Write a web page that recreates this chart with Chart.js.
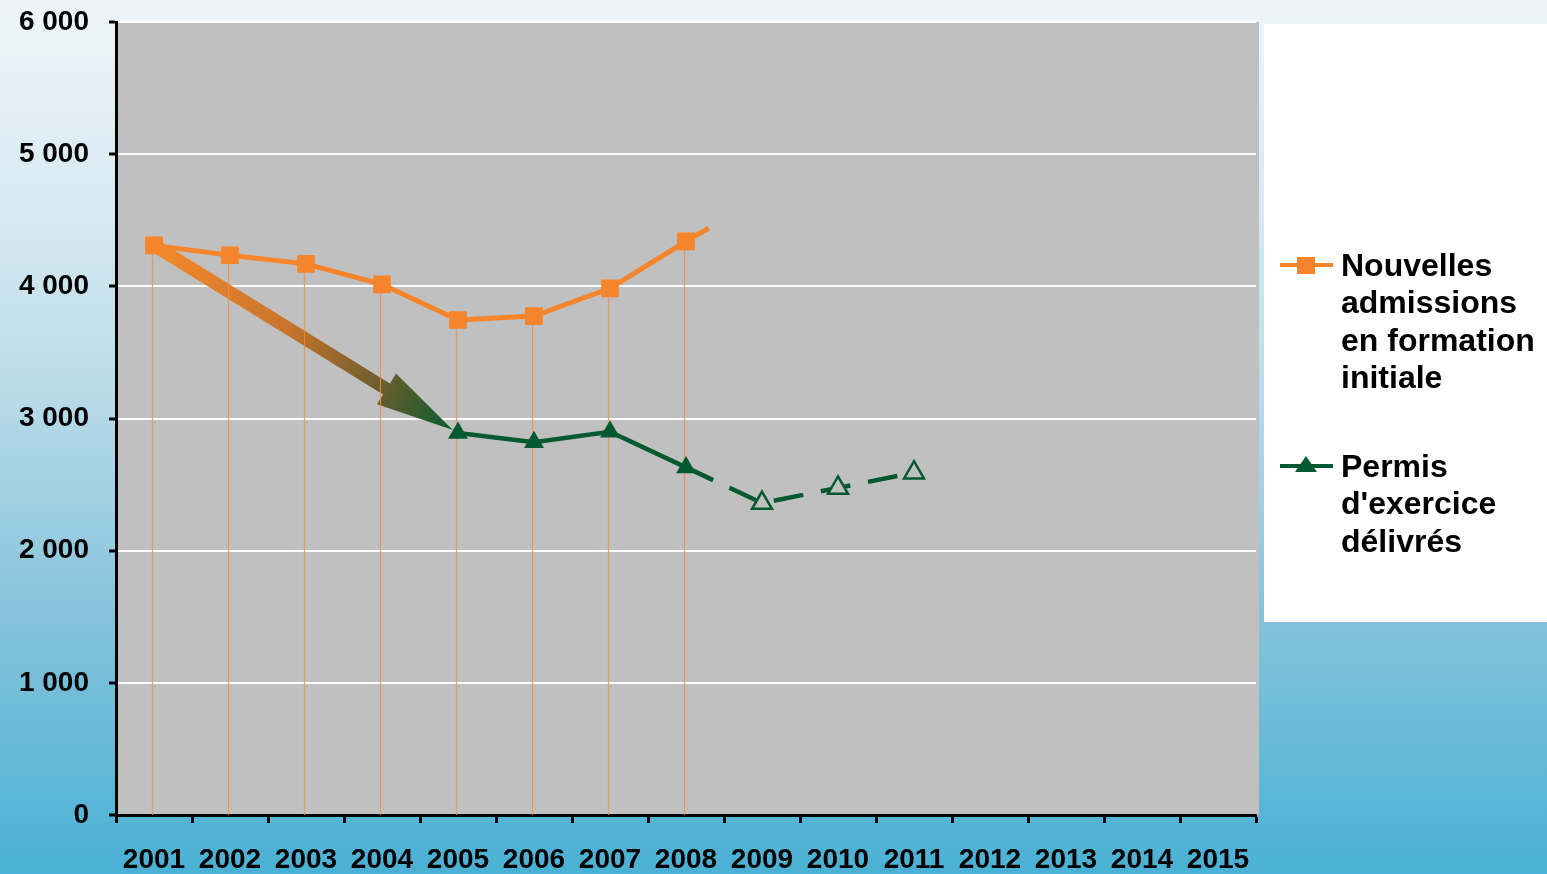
<!DOCTYPE html>
<html>
<head>
<meta charset="utf-8">
<script src="https://cdn.jsdelivr.net/npm/chart.js@4"></script>
<style>
  html, body { margin: 0; padding: 0; }
  body {
    width: 1547px; height: 874px; overflow: hidden;
    background: linear-gradient(to bottom, #eef5f9 0%, #d6e9f1 25%, #b9dbe8 45%, #86c3db 70%, #4ab1d4 100%);
  }
  canvas { display: block; }
</style>
</head>
<body>
<canvas id="chart" width="1547" height="874"></canvas>
<script>
// données
const years = ['2001', '2002', '2003', '2004', '2005', '2006', '2007', '2008', '2009', '2010', '2011', '2012', '2013', '2014', '2015'];
const admissions = [4310, 4235, 4170, 4015, 3745, 3775, 3985, 4340, null, null, null, null, null, null, null];
const permis = [null, null, null, null, 2890, 2820, 2900, 2630, 2360, 2475, 2590, null, null, null, null];
const permisOpen = [false, false, false, false, false, false, false, false, true, true, true, false, false, false, false];
const yTicks = [0, 1000, 2000, 3000, 4000, 5000, 6000];
const admissionsTail = 4440;   // petit bout de courbe après 2008
const legendLines = [
    ['Nouvelles', 'admissions', 'en formation', 'initiale'],
    ['Permis', "d'exercice", 'délivrés']
];

const ORANGE = '#f5842a';
const GREEN = '#045a2e';
const FONT = "'Liberation Sans', Arial, sans-serif";

function fmt(v) {
    return String(v).replace(/\B(?=(\d{3})+(?!\d))/g, ' ');
}

// fond gris de la zone de tracé
const plotBg = {
    id: 'plotBg',
    beforeDraw(chart) {
        const a = chart.chartArea;
        const ctx = chart.ctx;
        ctx.save();
        ctx.fillStyle = '#c0c0c0';
        ctx.fillRect(a.left, a.top, a.right - a.left + 3, a.bottom - a.top);
        ctx.restore();
    }
};

// flèche + traits verticaux
const extras = {
    id: 'extras',
    beforeDatasetsDraw(chart) {
        const ctx = chart.ctx;
        const a = chart.chartArea;
        const orange = chart.getDatasetMeta(0).data;
        const green = chart.getDatasetMeta(1).data;

        // flèche dégradée de 2001 (admissions) vers 2005 (permis)
        const p0 = orange[0], p1 = green[4];
        const dx = p1.x - p0.x, dy = p1.y - p0.y;
        const len = Math.sqrt(dx * dx + dy * dy);
        const ang = Math.atan2(dy, dx);
        const L = len - 6, head = 78, shaft = 6.5, hw = 18;
        ctx.save();
        ctx.translate(p0.x, p0.y);
        ctx.rotate(ang);
        const g = ctx.createLinearGradient(0, 0, L, 0);
        g.addColorStop(0, '#f5892a');
        g.addColorStop(0.45, '#c8742c');
        g.addColorStop(0.75, '#6e5e2e');
        g.addColorStop(1, '#0b5a2d');
        ctx.fillStyle = g;
        ctx.beginPath();
        ctx.moveTo(0, -shaft);
        ctx.lineTo(L - head, -shaft);
        ctx.lineTo(L - head, -hw);
        ctx.lineTo(L, 0);
        ctx.lineTo(L - head, hw);
        ctx.lineTo(L - head, shaft);
        ctx.lineTo(0, shaft);
        ctx.closePath();
        ctx.fill();
        ctx.restore();

        // traits verticaux orange sous chaque point
        ctx.save();
        ctx.strokeStyle = 'rgba(245, 140, 60, 0.8)';
        ctx.lineWidth = 1.2;
        orange.forEach((pt, i) => {
            if (admissions[i] == null) return;
            ctx.beginPath();
            ctx.moveTo(pt.x - 1.5, pt.y);
            ctx.lineTo(pt.x - 1.5, a.bottom);
            ctx.stroke();
        });

        // bout de courbe après 2008
        const last = orange[7];
        const nx = chart.scales.x.getPixelForValue(8);
        const tx = last.x + (nx - last.x) * 0.3;
        const ty = chart.scales.y.getPixelForValue(admissionsTail);
        ctx.strokeStyle = ORANGE;
        ctx.lineWidth = 5;
        ctx.beginPath();
        ctx.moveTo(last.x, last.y);
        ctx.lineTo(tx, ty);
        ctx.stroke();
        ctx.restore();
    }
};

// légende dessinée à la main
const sideLegend = {
    id: 'sideLegend',
    afterDraw(chart) {
        const ctx = chart.ctx;
        ctx.save();
        ctx.fillStyle = '#ffffff';
        ctx.fillRect(1264, 24, 283, 598);

        const items = [
            { color: ORANGE, y: 266, style: 'rect' },
            { color: GREEN, y: 467, style: 'triangle' }
        ];
        items.forEach((it, k) => {
            ctx.strokeStyle = it.color;
            ctx.lineWidth = 4;
            ctx.beginPath();
            ctx.moveTo(1280, it.y - 1);
            ctx.lineTo(1333, it.y - 1);
            ctx.stroke();
            ctx.fillStyle = it.color;
            if (it.style === 'rect') {
                ctx.fillRect(1297, it.y - 9, 18, 17);
            } else {
                ctx.beginPath();
                ctx.moveTo(1306, it.y - 11);
                ctx.lineTo(1317, it.y + 5);
                ctx.lineTo(1295, it.y + 5);
                ctx.closePath();
                ctx.fill();
            }
            ctx.fillStyle = '#000';
            ctx.font = 'bold 32px ' + FONT;
            ctx.textBaseline = 'middle';
            ctx.textAlign = 'left';
            legendLines[k].forEach((t, i) => {
                ctx.fillText(t, 1341, it.y + 1 + i * 37.5);
            });
        });
        ctx.restore();
    }
};

new Chart(document.getElementById('chart'), {
    type: 'line',
    data: {
        labels: years,
        datasets: [{
            label: legendLines[0].join(' '),
            data: admissions,
            borderColor: ORANGE,
            backgroundColor: ORANGE,
            borderWidth: 5,
            pointStyle: 'rect',
            pointRadius: 12.5,
            pointBorderWidth: 0,
            tension: 0
        }, {
            label: legendLines[1].join(' '),
            data: permis,
            borderColor: GREEN,
            backgroundColor: GREEN,
            borderWidth: 4.5,
            pointStyle: 'triangle',
            pointRadius: 11.5,
            pointBorderWidth: permisOpen.map(o => o ? 2.5 : 0),
            pointBorderColor: GREEN,
            pointBackgroundColor: permisOpen.map(o => o ? '#c0c0c0' : GREEN),
            segment: {
                borderDash: ctx => ctx.p0DataIndex >= 7 ? [30, 18] : undefined
            },
            tension: 0
        }]
    },
    options: {
        responsive: false,
        animation: false,
        layout: { padding: { top: 22, right: 291, left: 0, bottom: 0 } },
        plugins: {
            legend: { display: false },
            tooltip: { enabled: false }
        },
        scales: {
            x: {
                offset: true,
                grid: {
                    offset: true,
                    drawOnChartArea: false,
                    tickColor: '#000',
                    tickLength: 8,
                    tickWidth: 3
                },
                border: { color: '#000', width: 3 },
                ticks: {
                    color: '#000',
                    font: { family: FONT, size: 28, weight: 'bold' },
                    autoSkip: false,
                    maxRotation: 0,
                    padding: 20
                },
                afterFit(scale) {
                    scale.height = 59;
                    scale.paddingLeft = 0;
                    scale.paddingRight = 0;
                }
            },
            y: {
                min: 0,
                max: 6000,
                afterBuildTicks(scale) {
                    scale.ticks = yTicks.map(v => ({ value: v }));
                },
                grid: {
                    color: '#ffffff',
                    lineWidth: 2,
                    tickColor: '#000',
                    tickLength: 7,
                    tickWidth: 3
                },
                border: { color: '#000', width: 3 },
                ticks: {
                    color: '#000',
                    font: { family: FONT, size: 28, weight: 'bold' },
                    padding: 20,
                    callback: v => fmt(v)
                },
                afterFit(scale) {
                    scale.width = 116;
                    scale.paddingTop = 0;
                    scale.paddingBottom = 0;
                }
            }
        }
    },
    plugins: [plotBg, extras, sideLegend]
});
</script>
</body>
</html>
